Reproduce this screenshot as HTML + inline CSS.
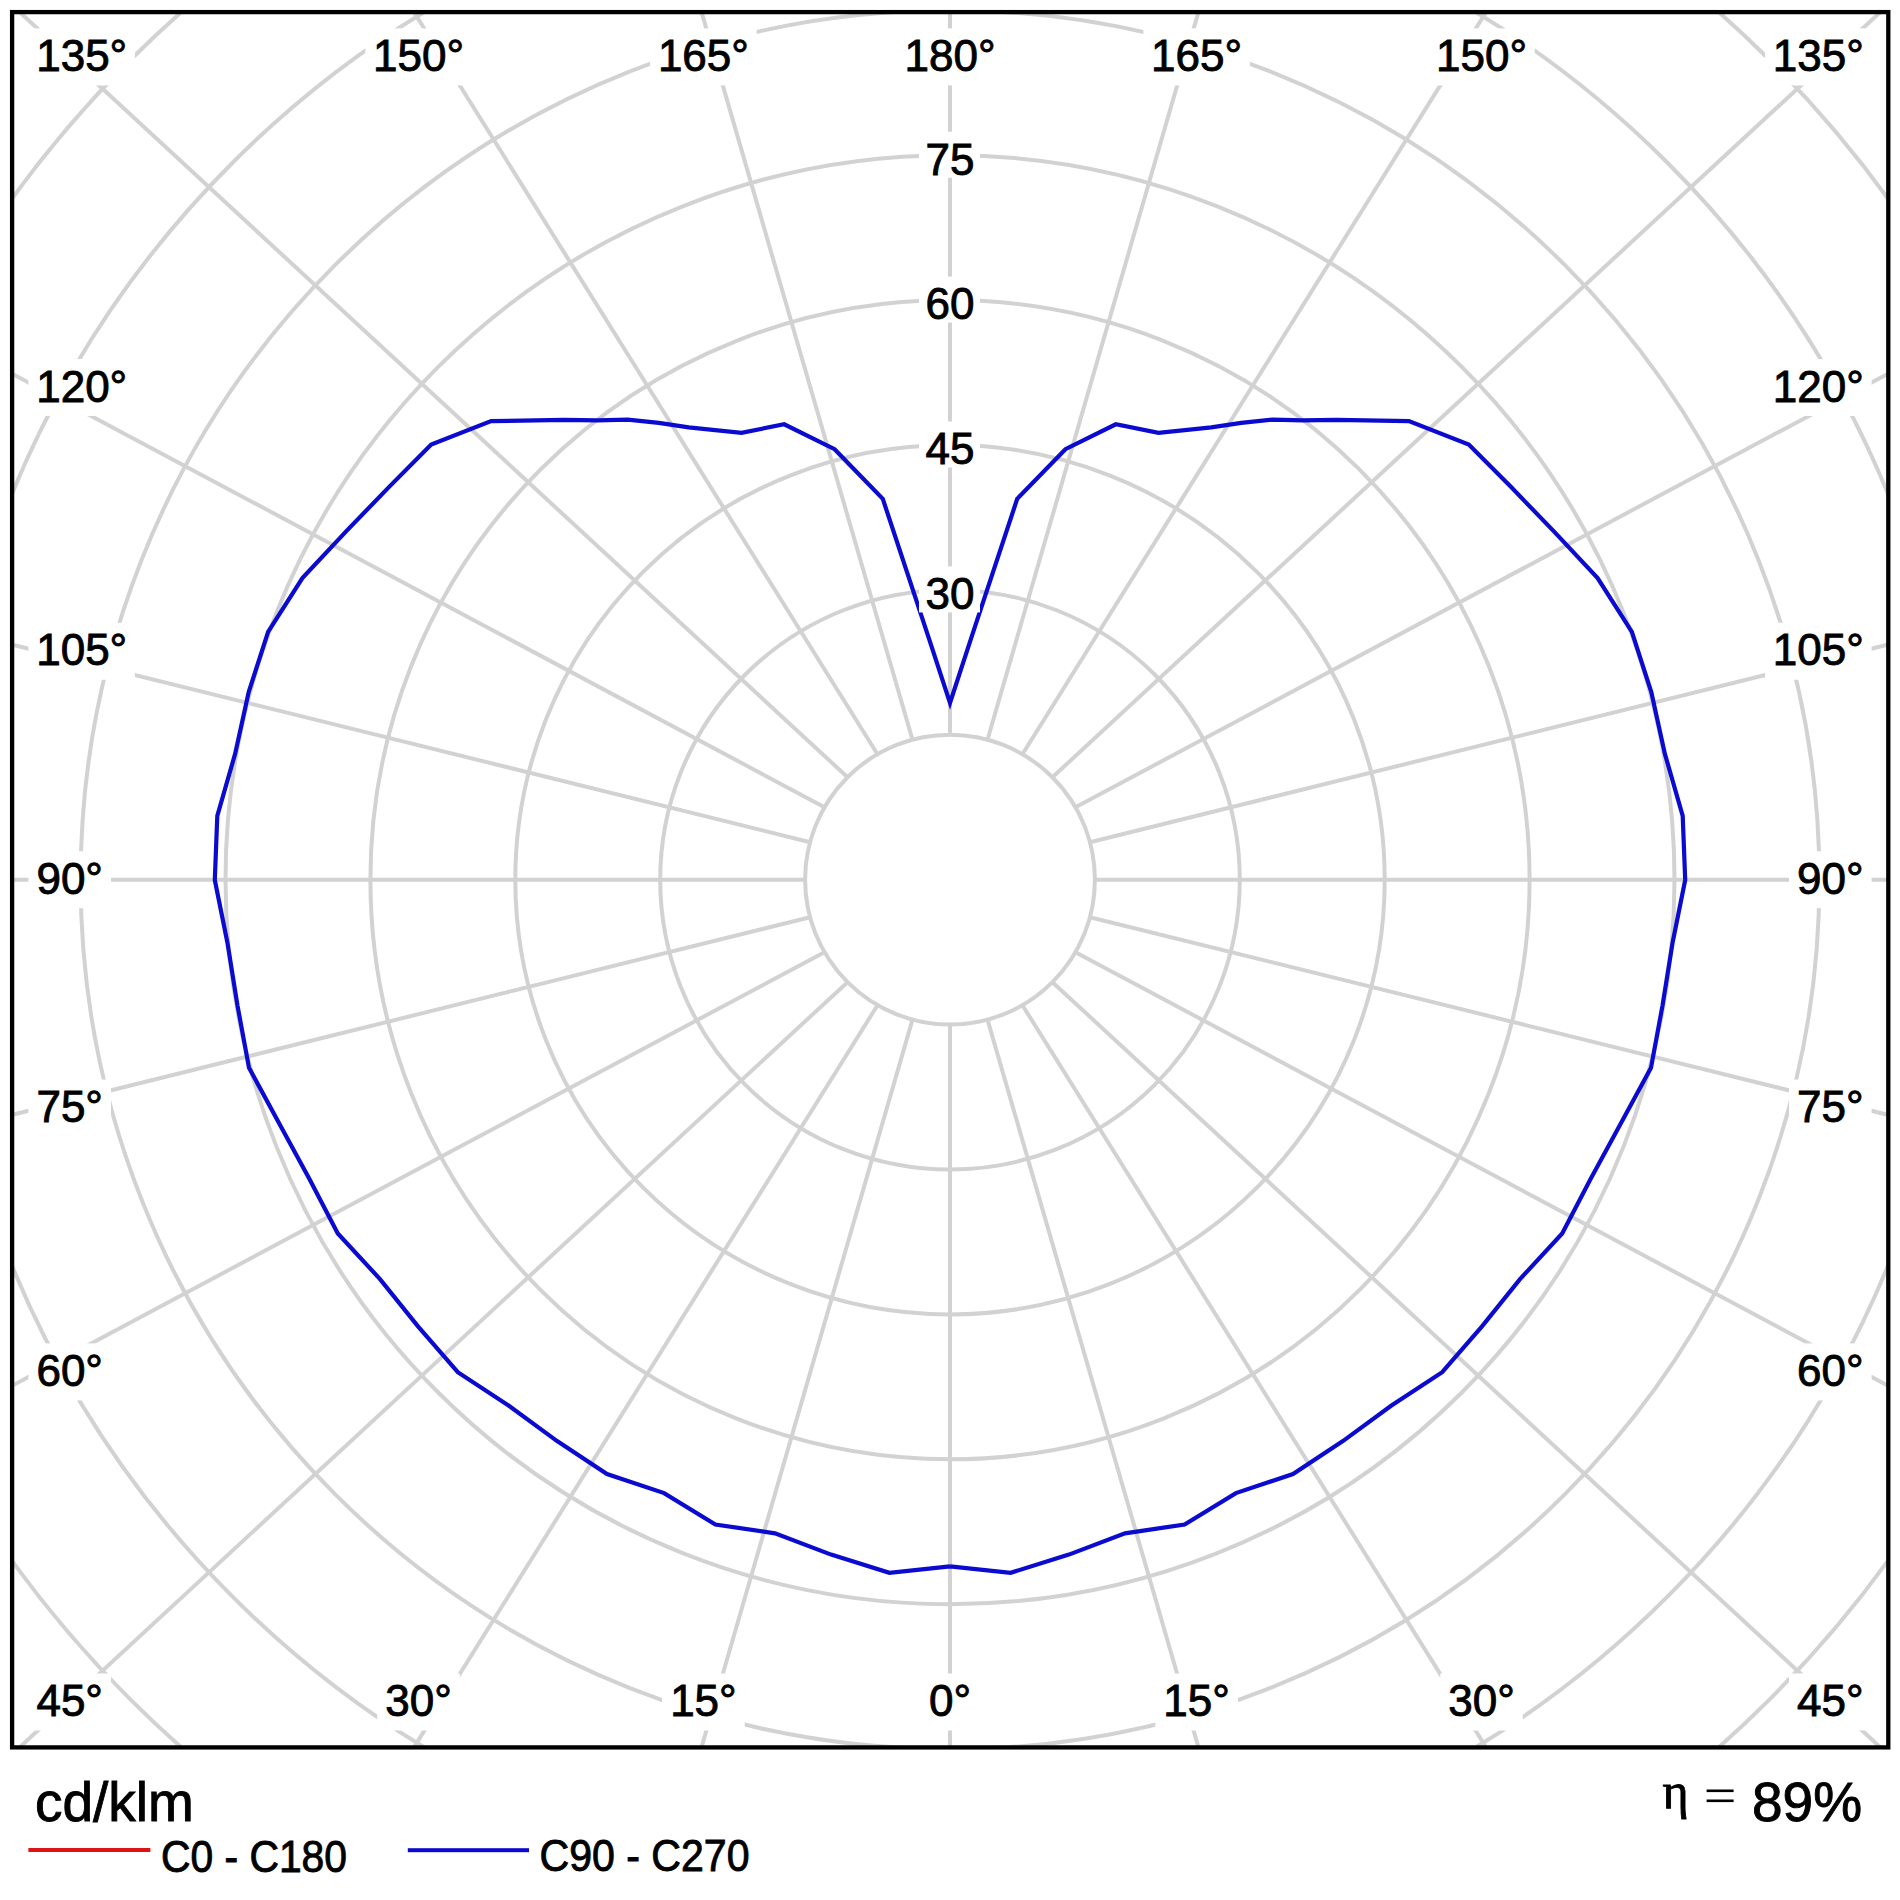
<!DOCTYPE html><html><head><meta charset="utf-8"><style>html,body{margin:0;padding:0;background:#fff;width:1900px;height:1900px;overflow:hidden}svg{display:block}text{font-family:"Liberation Sans",sans-serif;fill:#000;stroke:#000;stroke-width:0.9px}</style></head><body>
<svg width="1900" height="1900" viewBox="0 0 1900 1900">
<defs><clipPath id="fr"><rect x="12.1" y="12.1" width="1876.2" height="1735.3"/></clipPath></defs>
<rect width="1900" height="1900" fill="#fff"/>
<g clip-path="url(#fr)">
<circle cx="950.0" cy="879.7" r="144.9" fill="none" stroke="#d2d2d2" stroke-width="4"/>
<circle cx="950.0" cy="879.7" r="289.8" fill="none" stroke="#d2d2d2" stroke-width="4"/>
<circle cx="950.0" cy="879.7" r="434.7" fill="none" stroke="#d2d2d2" stroke-width="4"/>
<circle cx="950.0" cy="879.7" r="579.6" fill="none" stroke="#d2d2d2" stroke-width="4"/>
<circle cx="950.0" cy="879.7" r="724.5" fill="none" stroke="#d2d2d2" stroke-width="4"/>
<circle cx="950.0" cy="879.7" r="869.4" fill="none" stroke="#d2d2d2" stroke-width="4"/>
<circle cx="950.0" cy="879.7" r="1014.3" fill="none" stroke="#d2d2d2" stroke-width="4"/>
<circle cx="950.0" cy="879.7" r="1159.2" fill="none" stroke="#d2d2d2" stroke-width="4"/>
<line x1="950.00" y1="1024.60" x2="950.00" y2="4024.60" stroke="#d2d2d2" stroke-width="4"/>
<line x1="987.50" y1="1019.66" x2="1827.63" y2="3917.44" stroke="#d2d2d2" stroke-width="4"/>
<line x1="1022.45" y1="1005.19" x2="2645.45" y2="3603.26" stroke="#d2d2d2" stroke-width="4"/>
<line x1="1052.46" y1="982.16" x2="3347.73" y2="3103.48" stroke="#d2d2d2" stroke-width="4"/>
<line x1="1075.49" y1="952.15" x2="3886.61" y2="2452.15" stroke="#d2d2d2" stroke-width="4"/>
<line x1="1089.96" y1="917.20" x2="4225.36" y2="1693.66" stroke="#d2d2d2" stroke-width="4"/>
<line x1="1094.90" y1="879.70" x2="4340.90" y2="879.70" stroke="#d2d2d2" stroke-width="4"/>
<line x1="1089.96" y1="842.20" x2="4225.36" y2="65.74" stroke="#d2d2d2" stroke-width="4"/>
<line x1="1075.49" y1="807.25" x2="3886.61" y2="-692.75" stroke="#d2d2d2" stroke-width="4"/>
<line x1="1052.46" y1="777.24" x2="3347.73" y2="-1344.08" stroke="#d2d2d2" stroke-width="4"/>
<line x1="1022.45" y1="754.21" x2="2645.45" y2="-1843.86" stroke="#d2d2d2" stroke-width="4"/>
<line x1="987.50" y1="739.74" x2="1827.63" y2="-2158.04" stroke="#d2d2d2" stroke-width="4"/>
<line x1="950.00" y1="734.80" x2="950.00" y2="-2265.20" stroke="#d2d2d2" stroke-width="4"/>
<line x1="912.50" y1="739.74" x2="72.37" y2="-2158.04" stroke="#d2d2d2" stroke-width="4"/>
<line x1="877.55" y1="754.21" x2="-745.45" y2="-1843.86" stroke="#d2d2d2" stroke-width="4"/>
<line x1="847.54" y1="777.24" x2="-1447.73" y2="-1344.08" stroke="#d2d2d2" stroke-width="4"/>
<line x1="824.51" y1="807.25" x2="-1986.61" y2="-692.75" stroke="#d2d2d2" stroke-width="4"/>
<line x1="810.04" y1="842.20" x2="-2325.36" y2="65.74" stroke="#d2d2d2" stroke-width="4"/>
<line x1="805.10" y1="879.70" x2="-2440.90" y2="879.70" stroke="#d2d2d2" stroke-width="4"/>
<line x1="810.04" y1="917.20" x2="-2325.36" y2="1693.66" stroke="#d2d2d2" stroke-width="4"/>
<line x1="824.51" y1="952.15" x2="-1986.61" y2="2452.15" stroke="#d2d2d2" stroke-width="4"/>
<line x1="847.54" y1="982.16" x2="-1447.73" y2="3103.48" stroke="#d2d2d2" stroke-width="4"/>
<line x1="877.55" y1="1005.19" x2="-745.45" y2="3603.26" stroke="#d2d2d2" stroke-width="4"/>
<line x1="912.50" y1="1019.66" x2="72.37" y2="3917.44" stroke="#d2d2d2" stroke-width="4"/>
</g>
<rect x="650.1" y="28.4" width="106.5" height="57.0" fill="#fff"/>
<rect x="365.3" y="28.4" width="106.5" height="57.0" fill="#fff"/>
<rect x="28.4" y="28.4" width="106.5" height="57.0" fill="#fff"/>
<rect x="662.1" y="1673.5" width="82.6" height="57.0" fill="#fff"/>
<rect x="377.2" y="1673.5" width="82.6" height="57.0" fill="#fff"/>
<rect x="28.4" y="1673.5" width="82.6" height="57.0" fill="#fff"/>
<rect x="28.4" y="359.0" width="106.5" height="57.0" fill="#fff"/>
<rect x="28.4" y="622.8" width="106.5" height="57.0" fill="#fff"/>
<rect x="28.4" y="851.2" width="82.6" height="57.0" fill="#fff"/>
<rect x="28.4" y="1079.6" width="82.6" height="57.0" fill="#fff"/>
<rect x="28.4" y="1343.4" width="82.6" height="57.0" fill="#fff"/>
<rect x="1143.4" y="28.4" width="106.5" height="57.0" fill="#fff"/>
<rect x="1428.2" y="28.4" width="106.5" height="57.0" fill="#fff"/>
<rect x="1765.1" y="28.4" width="106.5" height="57.0" fill="#fff"/>
<rect x="1155.3" y="1673.5" width="82.6" height="57.0" fill="#fff"/>
<rect x="1440.2" y="1673.5" width="82.6" height="57.0" fill="#fff"/>
<rect x="1789.0" y="1673.5" width="82.6" height="57.0" fill="#fff"/>
<rect x="1765.1" y="359.0" width="106.5" height="57.0" fill="#fff"/>
<rect x="1765.1" y="622.8" width="106.5" height="57.0" fill="#fff"/>
<rect x="1789.0" y="851.2" width="82.6" height="57.0" fill="#fff"/>
<rect x="1789.0" y="1079.6" width="82.6" height="57.0" fill="#fff"/>
<rect x="1789.0" y="1343.4" width="82.6" height="57.0" fill="#fff"/>
<rect x="896.8" y="28.4" width="106.5" height="57.0" fill="#fff"/>
<rect x="921.0" y="1673.5" width="58.0" height="57.0" fill="#fff"/>
<polyline points="950.0,1566.4 889.4,1572.8 831.1,1554.6 775.0,1533.3 715.4,1524.5 664.1,1493.1 607.0,1474.1 557.1,1441.1 508.9,1405.7 457.8,1372.2 418.0,1326.4 380.0,1279.1 337.8,1233.5 309.3,1178.7 279.5,1124.0 249.0,1067.8 237.5,1005.6 227.5,943.2 214.8,880.0 217.3,815.9 235.1,753.9 248.7,692.1 268.1,631.8 302.4,578.0 346.1,531.4 388.9,487.1 431.2,444.6 491.1,421.1 563.9,419.9 597.2,420.3 627.7,419.6 658.8,422.9 688.7,427.4 741.5,432.8 784.2,424.3 834.6,449.2 882.8,498.9 928.9,638.4 950.0,703.0 971.1,638.4 1017.2,498.9 1065.4,449.2 1115.8,424.3 1158.5,432.8 1211.3,427.4 1241.2,422.9 1272.3,419.6 1302.8,420.3 1336.1,419.9 1408.9,421.1 1468.8,444.6 1511.1,487.1 1553.9,531.4 1597.6,578.0 1631.9,631.8 1651.3,692.1 1664.9,753.9 1682.7,815.9 1685.2,880.0 1672.5,943.2 1662.5,1005.6 1651.0,1067.8 1620.5,1124.0 1590.7,1178.7 1562.2,1233.5 1520.0,1279.1 1482.0,1326.4 1442.2,1372.2 1391.1,1405.7 1342.9,1441.1 1293.0,1474.1 1235.9,1493.1 1184.6,1524.5 1125.0,1533.3 1068.9,1554.6 1010.6,1572.8 950.0,1566.4" fill="none" stroke="#0a0ad0" stroke-width="4.2" stroke-linejoin="miter" stroke-miterlimit="10"/>
<rect x="919" y="566.4" width="61" height="46" fill="#fff"/>
<text x="950" y="609.2" font-size="44" text-anchor="middle">30</text>
<rect x="919" y="421.5" width="61" height="46" fill="#fff"/>
<text x="950" y="464.3" font-size="44" text-anchor="middle">45</text>
<rect x="919" y="276.6" width="61" height="46" fill="#fff"/>
<text x="950" y="319.4" font-size="44" text-anchor="middle">60</text>
<rect x="919" y="131.7" width="61" height="46" fill="#fff"/>
<text x="950" y="174.5" font-size="44" text-anchor="middle">75</text>
<text x="703.4" y="71.0" font-size="44" text-anchor="middle">165°</text>
<text x="418.5" y="71.0" font-size="44" text-anchor="middle">150°</text>
<text x="81.7" y="71.0" font-size="44" text-anchor="middle">135°</text>
<text x="703.4" y="1716.1" font-size="44" text-anchor="middle">15°</text>
<text x="418.5" y="1716.1" font-size="44" text-anchor="middle">30°</text>
<text x="69.7" y="1716.1" font-size="44" text-anchor="middle">45°</text>
<text x="81.7" y="401.6" font-size="44" text-anchor="middle">120°</text>
<text x="81.7" y="665.4" font-size="44" text-anchor="middle">105°</text>
<text x="69.7" y="893.8" font-size="44" text-anchor="middle">90°</text>
<text x="69.7" y="1122.2" font-size="44" text-anchor="middle">75°</text>
<text x="69.7" y="1386.0" font-size="44" text-anchor="middle">60°</text>
<text x="1196.6" y="71.0" font-size="44" text-anchor="middle">165°</text>
<text x="1481.5" y="71.0" font-size="44" text-anchor="middle">150°</text>
<text x="1818.3" y="71.0" font-size="44" text-anchor="middle">135°</text>
<text x="1196.6" y="1716.1" font-size="44" text-anchor="middle">15°</text>
<text x="1481.5" y="1716.1" font-size="44" text-anchor="middle">30°</text>
<text x="1830.3" y="1716.1" font-size="44" text-anchor="middle">45°</text>
<text x="1818.3" y="401.6" font-size="44" text-anchor="middle">120°</text>
<text x="1818.3" y="665.4" font-size="44" text-anchor="middle">105°</text>
<text x="1830.3" y="893.8" font-size="44" text-anchor="middle">90°</text>
<text x="1830.3" y="1122.2" font-size="44" text-anchor="middle">75°</text>
<text x="1830.3" y="1386.0" font-size="44" text-anchor="middle">60°</text>
<text x="950.0" y="71.0" font-size="44" text-anchor="middle">180°</text>
<text x="950.0" y="1716.1" font-size="44" text-anchor="middle">0°</text>
<rect x="12.1" y="12.1" width="1876.2" height="1735.3" fill="none" stroke="#000" stroke-width="4.3"/>
<text x="35" y="1820.5" font-size="55">cd/klm</text>
<rect x="28.4" y="1848" width="122" height="4" fill="#dc1414"/>
<text x="161" y="1871.5" font-size="44" textLength="186" lengthAdjust="spacingAndGlyphs">C0 - C180</text>
<rect x="407.8" y="1848.2" width="121.2" height="4" fill="#0a0ad0"/>
<text x="539.5" y="1871" font-size="44" textLength="210" lengthAdjust="spacingAndGlyphs">C90 - C270</text>
<text x="1662.5" y="1808" font-size="50" style="font-family:'Liberation Serif',serif">η</text>
<rect x="1706.6" y="1789.5" width="27" height="2.6" fill="#000"/>
<rect x="1706.6" y="1799.5" width="27" height="2.6" fill="#000"/>
<text x="1752" y="1820.5" font-size="55">89%</text>
</svg></body></html>
